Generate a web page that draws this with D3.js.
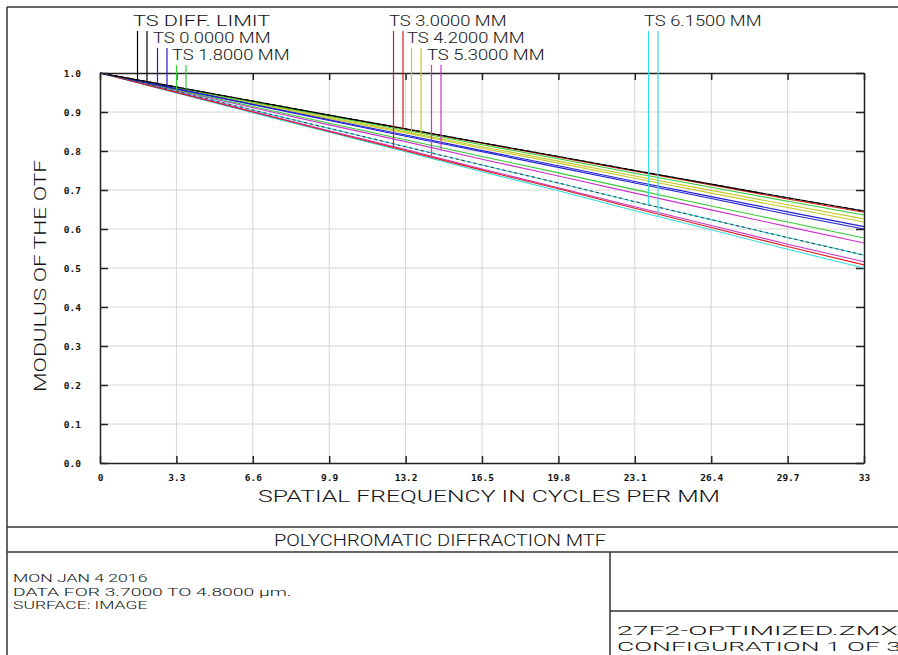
<!DOCTYPE html>
<html><head><meta charset="utf-8">
<script src="https://cdn.jsdelivr.net/npm/d3@7"></script>
<style>
html,body{margin:0;padding:0;background:#fff;}
svg{display:block;}
text{font-family:Roboto,"Liberation Mono",sans-serif;font-weight:300;fill:#111;}
</style></head>
<body>
<script>
// ---- data ----
const freq = [0, 3.3, 6.6, 9.9, 13.2, 16.5, 19.8, 23.1, 26.4, 29.7, 33];
const xTicks = [0, 3.3, 6.6, 9.9, 13.2, 16.5, 19.8, 23.1, 26.4, 29.7, 33];
const xTickLabels = ["0","3.3","6.6","9.9","13.2","16.5","19.8","23.1","26.4","29.7","33"];
const yTicks = [0,0.1,0.2,0.3,0.4,0.5,0.6,0.7,0.8,0.9,1.0];
const yTickLabels = ["0.0","0.1","0.2","0.3","0.4","0.5","0.6","0.7","0.8","0.9","1.0"];

const diffT  = [1, .964, .928, .892, .857, .821, .786, .750, .715, .680, .646];
const diffS  = [1, .964, .928, .892, .857, .821, .786, .750, .715, .680, .646];
const f00T   = [1, .960, .920, .880, .841, .801, .762, .722, .683, .644, .606];
const f00S   = [1, .959, .919, .878, .838, .798, .758, .718, .678, .638, .600];
const f18T   = [1, .957, .914, .871, .829, .786, .744, .701, .659, .618, .577];
const f18S   = [1, .963, .926, .889, .853, .816, .780, .743, .707, .671, .636];
const f30T   = [1, .950, .900, .850, .801, .751, .703, .653, .604, .555, .508];
const f30S   = [1, .964, .927, .891, .856, .820, .784, .748, .713, .677, .643];
const f42T   = [1, .961, .922, .883, .846, .807, .769, .730, .692, .655, .618];
const f42S   = [1, .962, .924, .886, .849, .811, .774, .736, .699, .662, .626];
const f53T   = [1, .951, .901, .852, .804, .754, .706, .657, .609, .561, .516];
const f53S   = [1, .956, .911, .867, .824, .779, .736, .692, .649, .606, .564];
const f615T  = [1, .953, .905, .858, .811, .764, .718, .670, .624, .578, .533];
const f615S  = [1, .949, .898, .848, .798, .747, .698, .647, .598, .548, .500];

const fieldLabels = ["TS DIFF. LIMIT","TS 0.0000 MM","TS 1.8000 MM","TS 3.0000 MM","TS 4.2000 MM","TS 5.3000 MM","TS 6.1500 MM"];
const fieldColors = ["#000000","#1f1fd0","#33cc33","#e01818","#c8c828","#cc33cc","#33dede"];
const fieldT = [diffT, f00T, f18T, f30T, f42T, f53T, f615T];
const fieldS = [diffS, f00S, f18S, f30S, f42S, f53S, f615S];

const xTitle = "SPATIAL  FREQUENCY  IN  CYCLES  PER  MM";
const yTitle = "MODULUS  OF  THE  OTF";
const chartTitle = "POLYCHROMATIC DIFFRACTION MTF";
const infoLines = ["MON JAN 4 2016","DATA FOR 3.7000 TO 4.8000 \u00b5m.","SURFACE: IMAGE"];
const fileLines = ["27F2-OPTIMIZED.ZMX","CONFIGURATION 1 OF 3"];

// ---- layout ----
const W = 898, H = 655;
const L = 100, R = 864, T = 73, B = 463;
const svg = d3.select("body").append("svg").attr("width", W).attr("height", H);

const x = d3.scaleLinear().domain([0, 33]).range([L, R]);
const y = d3.scaleLinear().domain([0, 1]).range([B, T]);

// outer frame
const fr = svg.append("g").attr("stroke", "#333").attr("stroke-width", 1.5).attr("fill", "none");
fr.append("line").attr("x1", 7).attr("x2", W + 5).attr("y1", 7).attr("y2", 7);
fr.append("line").attr("x1", 7).attr("x2", 7).attr("y1", 7).attr("y2", H + 5);
fr.append("line").attr("x1", 7).attr("x2", W + 5).attr("y1", 527).attr("y2", 527);
fr.append("line").attr("x1", 7).attr("x2", W + 5).attr("y1", 552).attr("y2", 552);
fr.append("line").attr("x1", 610).attr("x2", 610).attr("y1", 552).attr("y2", H + 5);
fr.append("line").attr("x1", 610).attr("x2", W + 5).attr("y1", 611).attr("y2", 611);

// grid
const grid = svg.append("g").attr("stroke", "#d6d6d6").attr("stroke-width", 1);
xTicks.slice(1, -1).forEach(v => grid.append("line").attr("x1", x(v)).attr("x2", x(v)).attr("y1", T).attr("y2", B));
yTicks.slice(1, -1).forEach(v => grid.append("line").attr("x1", L).attr("x2", R).attr("y1", y(v)).attr("y2", y(v)));

// axes via d3
const axB = svg.append("g").attr("transform", `translate(0,${B})`)
  .call(d3.axisBottom(x).tickValues(xTicks).tickSize(-7).tickSizeOuter(0).tickFormat((d, i) => xTickLabels[i]));
const axT = svg.append("g").attr("transform", `translate(0,${T})`)
  .call(d3.axisTop(x).tickValues(xTicks).tickSize(-7).tickSizeOuter(0).tickFormat(""));
const axL = svg.append("g").attr("transform", `translate(${L},0)`)
  .call(d3.axisLeft(y).tickValues(yTicks).tickSize(-8).tickSizeOuter(0).tickFormat((d, i) => yTickLabels[i]));
const axR = svg.append("g").attr("transform", `translate(${R},0)`)
  .call(d3.axisRight(y).tickValues(yTicks).tickSize(-8).tickSizeOuter(0).tickFormat(""));
[axB, axT, axL, axR].forEach(a => {
  a.select(".domain").attr("stroke", "#222").attr("stroke-width", 1.5);
  a.selectAll(".tick line").attr("stroke", "#222").attr("stroke-width", 1.5);
  a.selectAll("text").style("font-family", "'DejaVu Sans Mono',monospace").style("font-size", "9.5px")
   .style("font-weight", "bold").attr("fill", "#333");
});
axB.selectAll("text").attr("dy", "0.71em").attr("y", 11);
axL.selectAll("text").attr("x", -19);

// curves
const line = d3.line().x((d, i) => x(freq[i])).y(d => y(d));
const cg = svg.append("g").attr("fill", "none").attr("stroke-width", 1.1);
for (let k = fieldT.length - 1; k >= 0; k--) {
  cg.append("path").datum(fieldT[k]).attr("d", line).attr("stroke", fieldColors[k]);
  cg.append("path").datum(fieldS[k]).attr("d", line).attr("stroke", fieldColors[k])
    .attr("stroke-dasharray", k === 0 ? "4,3" : null);
}
// dark dashed overlay seen on the 6.15 mm tangential curve
cg.append("path").datum(f615T).attr("d", line).attr("stroke", "#445").attr("stroke-dasharray", "3,3");

// legend
function interp(arr, f) { return d3.scaleLinear().domain(freq).range(arr)(f); }
const legPos = [[133, 0], [153, 1], [172, 2], [389, 0], [407, 1], [427, 2], [644, 0]];
const rowBase = [26, 43, 60];
fieldLabels.forEach((lab, k) => {
  const lx = legPos[k][0], row = legPos[k][1];
  const bl = rowBase[row];
  svg.append("text").attr("x", lx).attr("y", bl).attr("font-size", 14.5)
    .attr("textLength", lab.length * 9.8).attr("lengthAdjust", "spacingAndGlyphs").text(lab);
  [[fieldT[k], 4.5], [fieldS[k], 14]].forEach(([arr, off]) => {
    const px = lx + off;
    svg.append("line").attr("x1", px).attr("x2", px).attr("y1", bl + 5)
      .attr("y2", y(interp(arr, x.invert(px)))).attr("stroke", fieldColors[k]).attr("stroke-width", 1.2);
  });
});

// titles
svg.append("text").attr("x", 258).attr("y", 502).attr("font-size", 16.5)
  .attr("textLength", 462).attr("lengthAdjust", "spacingAndGlyphs").text(xTitle);
svg.append("text").attr("transform", "translate(46,392) rotate(-90)").attr("font-size", 16.5)
  .attr("textLength", 232).attr("lengthAdjust", "spacingAndGlyphs").text(yTitle);
svg.append("text").attr("x", 274).attr("y", 546).attr("font-size", 16)
  .attr("textLength", 332).attr("lengthAdjust", "spacingAndGlyphs").text(chartTitle);
infoLines.forEach((t, i) => {
  svg.append("text").attr("x", 13).attr("y", 582 + i * 13.5).attr("font-size", 11.5)
    .attr("textLength", t.length * 9.6).attr("lengthAdjust", "spacingAndGlyphs").text(t);
});
fileLines.forEach((t, i) => {
  svg.append("text").attr("x", 617).attr("y", 635 + i * 15.5).attr("font-size", 13)
    .attr("textLength", t.length * (i === 0 ? 15.6 : 14.2)).attr("lengthAdjust", "spacingAndGlyphs").text(t);
});
</script>
</body></html>
